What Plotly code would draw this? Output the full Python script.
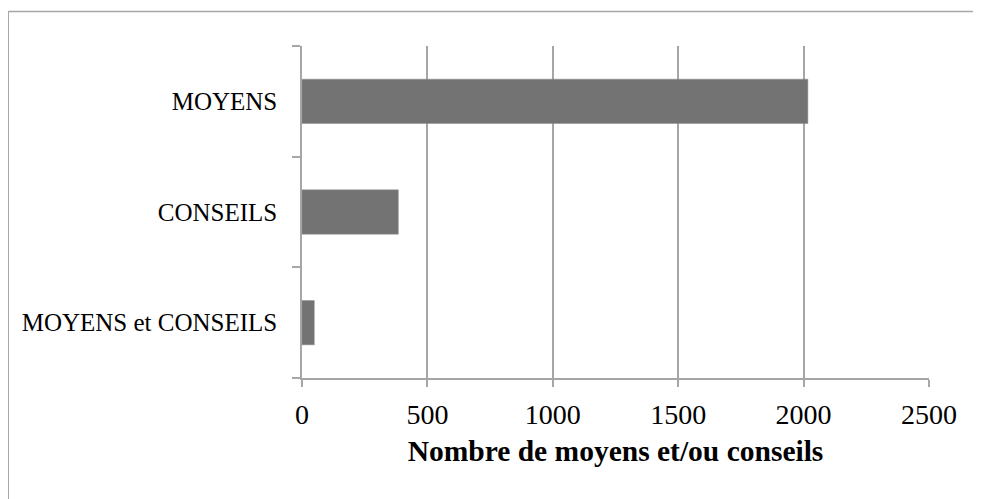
import plotly.graph_objects as go

categories = ["MOYENS et CONSEILS", "CONSEILS", "MOYENS"]
values = [49, 384, 2017]
x_ticks = [0, 500, 1000, 1500, 2000, 2500]
x_title = "Nombre de moyens et/ou conseils"

# the page body adds an 8px offset, so the figure is 8px smaller
W, H = 973, 491
L, T = 294, 37.5
pw, ph = 627.5, 332.5
R, B = W - L - pw, H - T - ph

grid = "#a6a6a6"
font = "Liberation Serif"

fig = go.Figure(go.Bar(
    x=values, y=categories, orientation="h",
    marker=dict(color="#737373", line=dict(color="#8a8a8a", width=0.5)),
    width=0.4,
))

fig.update_layout(
    width=W, height=H,
    margin=dict(l=L, r=R, t=T, b=B, autoexpand=False),
    paper_bgcolor="white", plot_bgcolor="white",
    showlegend=False,
    font=dict(family=font, color="black"),
    xaxis=dict(
        range=[0, 2500], tickvals=x_ticks, ticktext=[str(v) for v in x_ticks],
        showgrid=True, gridcolor=grid, gridwidth=1.5,
        showline=True, linecolor=grid, linewidth=1.5,
        ticks="outside", ticklen=7, tickcolor=grid, tickwidth=1.5,
        zeroline=False,
        tickfont=dict(size=28, family=font),
        ticklabelstandoff=4,
        title=dict(text="<b>" + x_title + "</b>", font=dict(size=29.5, family=font), standoff=11),
    ),
    yaxis=dict(
        type="category", categoryorder="array", categoryarray=categories,
        range=[-0.5, 2.5],
        showgrid=False, showline=True, linecolor=grid, linewidth=1.5,
        ticks="outside", ticklen=8, tickcolor=grid, tickwidth=1.5,
        tickson="boundaries",
        tickfont=dict(size=25, family=font),
        ticklabelstandoff=18,
    ),
)

# outer chart border (top and left edges visible; right/bottom beyond the image)
x_left = (0 - L) / pw
y_top = (H - B - 3) / ph
fig.add_shape(type="line", xref="paper", yref="paper",
              x0=x_left, x1=(W + 20 - L) / pw, y0=y_top, y1=y_top,
              line=dict(color=grid, width=1.5))
fig.add_shape(type="line", xref="paper", yref="paper",
              x0=x_left, x1=x_left, y0=y_top, y1=-(B + 20) / ph,
              line=dict(color=grid, width=1.5))

fig.write_html("out.html")
